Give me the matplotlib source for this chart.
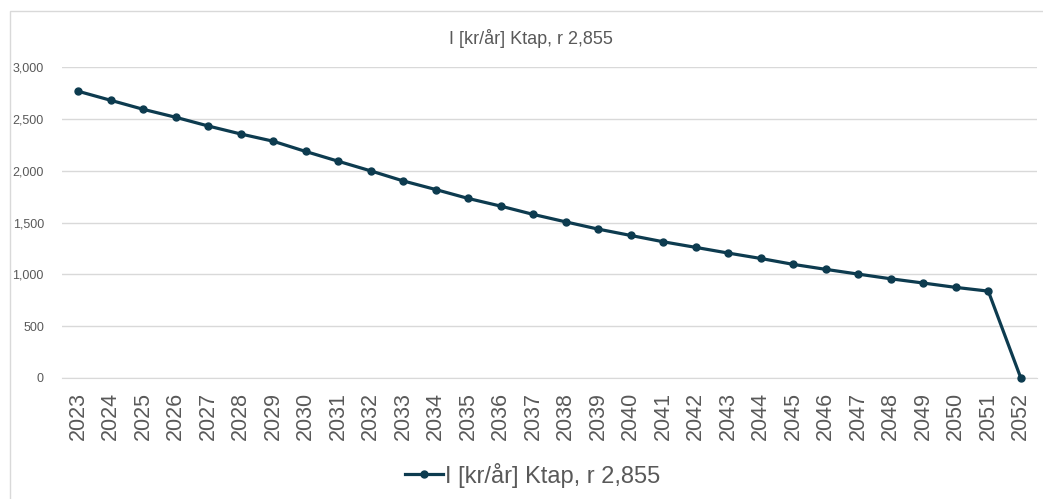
import matplotlib
matplotlib.use('Agg')
import matplotlib.pyplot as plt
from matplotlib.patches import Rectangle
from matplotlib.ticker import FuncFormatter

# data
years = list(range(2023, 2053))
values = [2766, 2679, 2592, 2515, 2431, 2354, 2284, 2185, 2091, 1998,
          1901, 1818, 1732, 1658, 1578, 1506, 1436, 1375, 1314, 1260,
          1205, 1153, 1096, 1048, 1002, 957, 916, 874, 838, 0]
series_name = 'I [kr/år] Ktap, r 2,855'

line_color = '#0d3b4f'
grid_color = '#d9d9d9'
text_color = '#595959'

plt.rcParams['font.family'] = ['Liberation Sans', 'DejaVu Sans']

fig = plt.figure(figsize=(10.43, 4.99), dpi=100)
ax = fig.add_axes([0.0594, 0.2425, 0.9349, 0.6232])

x = list(range(len(years)))
ax.plot(x, values, color=line_color, linewidth=2.3, marker='o', markersize=5,
        label=series_name, clip_on=False, zorder=5)

ax.set_xlim(-0.5, len(years) - 0.5)
ax.set_ylim(0, 3000)
ax.set_yticks(range(0, 3001, 500))
ax.yaxis.set_major_formatter(FuncFormatter(lambda v, p: f'{int(v):,}'))
ax.set_xticks(x)
ax.set_xticklabels([str(y) for y in years], rotation=90, fontsize=15.5,
                   color=text_color)
ax.tick_params(axis='y', labelsize=9, colors=text_color, length=0, pad=13)
ax.tick_params(axis='x', length=0, pad=10)

ax.grid(axis='y', color=grid_color, linewidth=1)
ax.set_axisbelow(True)
for s in ['top', 'right', 'left']:
    ax.spines[s].set_visible(False)
ax.spines['bottom'].set_color(grid_color)
ax.spines['bottom'].set_zorder(1)

fig.text(531 / 1043, 1 - 38 / 499, series_name, ha='center', va='center',
         fontsize=13, color=text_color)

fig.legend(loc='center', bbox_to_anchor=(533 / 1043, 1 - 475 / 499),
           frameon=False, fontsize=17, handlelength=1.6,
           handletextpad=0.1, labelcolor=text_color)

# chart border
fig.patches.append(Rectangle((10 / 1043, -0.01), 1.05, 1 - 11 / 499 + 0.01,
                             transform=fig.transFigure, fill=False,
                             edgecolor=grid_color, linewidth=1))

fig.savefig('out.png', dpi=100)
